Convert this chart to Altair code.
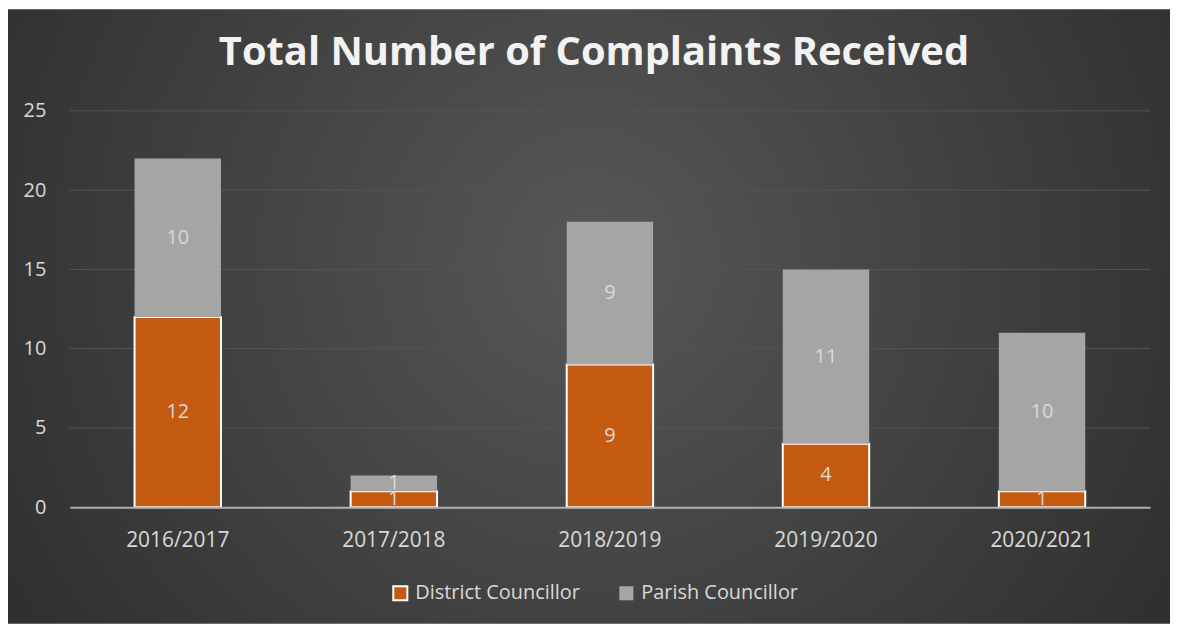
import altair as alt
import pandas as pd

years = ["2016/2017", "2017/2018", "2018/2019", "2019/2020", "2020/2021"]
series = ["District Councillor", "Parish Councillor"]
district = [12, 1, 9, 4, 1]
parish = [10, 1, 9, 11, 10]
y_ticks = [0, 5, 10, 15, 20, 25]

rows = []
for i, y in enumerate(years):
    rows.append({"year": y, "series": series[0], "value": district[i], "ord": 0})
    rows.append({"year": y, "series": series[1], "value": parish[i], "ord": 1})
df = pd.DataFrame(rows)
grid_df = pd.DataFrame({"v": y_ticks[1:]})
bg_df = pd.DataFrame({"a": [0]})

W, H = 1085, 398
PL, PT = 62, 102
TOTAL_W, TOTAL_H = 1167, 617

xscale = alt.Scale(domain=years, paddingInner=0.6, paddingOuter=0.3)
yscale = alt.Scale(domain=[0, 25], nice=False)
y_axis = alt.Axis(title=None, values=y_ticks, grid=False, domain=False,
                  ticks=False, labelColor="#d9d9d9", labelFontSize=20,
                  labelPadding=24, labelFont="Open Sans", zindex=1)

bg = alt.Chart(bg_df).mark_rect(
    color=alt.Gradient(
        gradient="radial",
        x1=0.5, y1=0.45, r1=0.0,
        x2=0.5, y2=0.45, r2=0.75,
        stops=[alt.GradientStop(offset=0, color="#575757"),
               alt.GradientStop(offset=1, color="#242424")],
    )
).encode(
    x=alt.value(-PL), x2=alt.value(TOTAL_W - PL),
    y=alt.value(-PT), y2=alt.value(TOTAL_H - PT),
)

grid = alt.Chart(grid_df).mark_rule(color="#555555", strokeWidth=1).encode(
    y=alt.Y("v:Q", scale=yscale, axis=y_axis),
)

bars = alt.Chart(df).mark_bar(stroke=None).encode(
    x=alt.X("year:N", scale=xscale, sort=years,
            axis=alt.Axis(title=None, labelAngle=0, ticks=False, domain=True,
                          domainColor="#b0b0b0", domainWidth=2,
                          labelColor="#d9d9d9", labelFontSize=21, labelPadding=22,
                          labelFont="Open Sans", zindex=1)),
    y=alt.Y("value:Q", stack="zero", scale=yscale, axis=y_axis),
    color=alt.Color("series:N",
                    scale=alt.Scale(domain=series, range=["#c55a11", "#a5a5a5"]),
                    legend=alt.Legend(title=None, orient="none", direction="horizontal",
                                      legendX=322, legendY=474,
                                      labelColor="#d9d9d9", labelFontSize=20,
                                      labelFont="Open Sans", labelLimit=400,
                                      symbolType="square", symbolSize=200,
                                      symbolStrokeWidth=2,
                                      columnPadding=34, labelOffset=5)),
    stroke=alt.Stroke("series:N",
                      scale=alt.Scale(domain=series, range=["#ffffff", "transparent"]),
                      legend=None),
    strokeWidth=alt.value(2),
    order=alt.Order("ord:Q", sort="ascending"),
)

labels = alt.Chart(df).transform_stack(
    stack="value", groupby=["year"], as_=["y0", "y1"],
    sort=[alt.SortField("ord", order="ascending")]
).transform_calculate(
    mid="(datum.y0 + datum.y1) / 2"
).mark_text(color="#d9d9d9", fontSize=20, font="Open Sans", baseline="middle").encode(
    x=alt.X("year:N", scale=xscale, sort=years),
    y=alt.Y("mid:Q", scale=yscale, axis=y_axis),
    text=alt.Text("value:Q"),
)

chart = alt.layer(bg, grid, bars, labels).properties(
    width=W, height=H,
    padding={"left": PL, "top": PT, "right": TOTAL_W - PL - W, "bottom": TOTAL_H - PT - H},
    autosize=alt.AutoSizeParams(type="none"),
    title=alt.TitleParams(
        "Total Number of Complaints Received",
        font="Open Sans", fontSize=40, fontWeight="bold", color="#f2f2f2",
        anchor="middle", frame="group", baseline="alphabetic", offset=-96, dx=-16,
    ),
).configure_view(stroke=None).configure(background="white")

chart.save("out.html", embed_options={"renderer": "svg", "actions": False})
